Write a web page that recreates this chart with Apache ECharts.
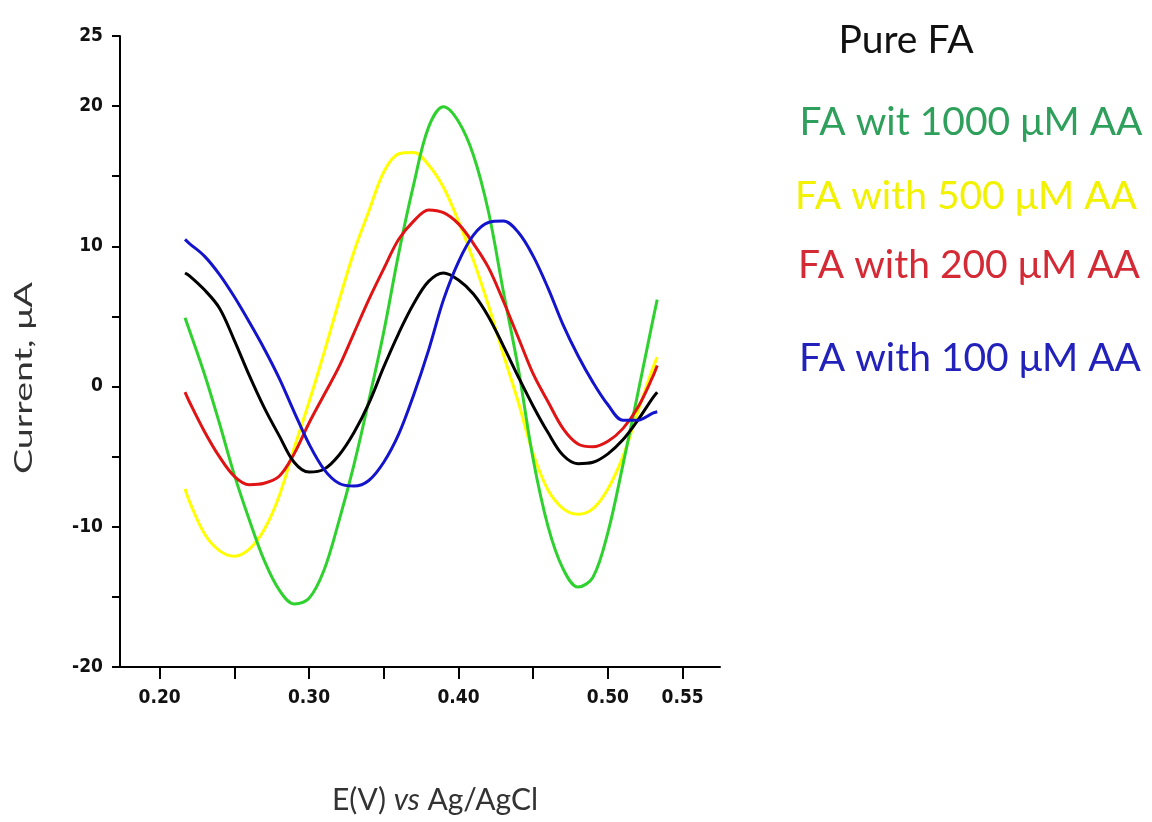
<!DOCTYPE html>
<html>
<head>
<meta charset="utf-8">
<script src="https://cdn.jsdelivr.net/npm/echarts@6/dist/echarts.min.js"></script>
<style>
  html, body { margin: 0; padding: 0; background: #ffffff; }
  #chart { width: 1152px; height: 822px; }
</style>
</head>
<body>
<div id="chart"></div>
<script>
// Potential (V vs Ag/AgCl) at which each current was sampled
const potentials = [0.217, 0.22, 0.23, 0.24, 0.25, 0.26, 0.27, 0.28, 0.29, 0.30, 0.31,
  0.32, 0.33, 0.34, 0.35, 0.36, 0.37, 0.38, 0.39, 0.40, 0.41, 0.42, 0.43, 0.44, 0.45,
  0.46, 0.47, 0.48, 0.49, 0.50, 0.51, 0.52, 0.53, 0.533];

// Current (µA) for each solution
const pureFA = [8.1, 7.9, 6.9, 5.6, 3.3, 0.8, -1.5, -3.5, -5.4, -6.1, -5.9,
  -4.9, -3.3, -1.2, 1.4, 3.8, 5.9, 7.5, 8.1, 7.6, 6.6, 5.0, 2.9, 0.7, -1.4,
  -3.3, -4.9, -5.5, -5.4, -4.8, -3.8, -2.4, -0.8, -0.4];
const fa1000 = [4.9, 4.0, 0.9, -2.6, -6.3, -9.5, -12.4, -14.5, -15.5, -15.1, -13.1,
  -9.6, -5.6, -1.0, 3.9, 9.5, 14.4, 18.5, 19.95, 18.9, 16.5, 12.5, 6.8, 1.3, -5.2,
  -10.0, -13.0, -14.3, -13.6, -10.4, -5.6, -0.5, 4.7, 6.2];
const fa500 = [-7.3, -8.2, -10.5, -11.7, -12.1, -11.6, -10.2, -7.8, -4.4, -1.1, 2.4,
  6.1, 9.6, 12.5, 15.3, 16.6, 16.7, 15.8, 14.2, 11.8, 9.0, 5.8, 2.3, -1.1, -4.8,
  -7.4, -8.7, -9.1, -8.7, -7.3, -5.0, -1.8, 1.3, 2.1];
const fa200 = [-0.4, -1.1, -3.2, -5.0, -6.4, -7.0, -6.9, -6.4, -4.8, -2.6, -0.6,
  1.4, 3.8, 6.2, 8.4, 10.5, 11.8, 12.6, 12.4, 11.6, 10.2, 8.5, 6.1, 3.5, 0.9,
  -1.1, -3.0, -4.1, -4.3, -3.9, -3.0, -1.5, 0.7, 1.5];
const fa100 = [10.5, 10.2, 9.3, 8.0, 6.4, 4.6, 2.7, 0.6, -1.8, -4.1, -5.9,
  -6.9, -7.1, -6.7, -5.4, -3.4, -0.6, 2.6, 6.2, 8.9, 10.8, 11.7, 11.8, 11.0, 9.3,
  7.0, 4.4, 2.2, 0.3, -1.3, -2.4, -2.4, -1.9, -1.8];

// Axis ticks and labels
const xTickValues = [0.20, 0.25, 0.30, 0.35, 0.40, 0.45, 0.50, 0.55];
const xLabelValues = [0.20, 0.30, 0.40, 0.50, 0.55];
const yLabelValues = [-20, -10, 0, 10, 20, 25];

// Axis titles
const xTitle = '{a|E(V) }{b|vs}{a| Ag/AgCl}';
const yTitle = 'Current, \u03bcA';

// Series names as shown in the key, in key order
const seriesNames = ['Pure FA', 'FA wit 1000 \u03bcM AA', 'FA with 500 \u03bcM AA',
  'FA with 200 \u03bcM AA', 'FA with 100 \u03bcM AA'];
const seriesValues = [pureFA, fa1000, fa500, fa200, fa100];
const lineColors = ['#000000', '#2fd12f', '#ffff00', '#e01414', '#1414cc'];
const keyColors = ['#111111', '#2f9f5c', '#f2f200', '#d42a36', '#2222bb'];
const keyPos = [[906, 40], [971, 122], [966, 196], [969, 265], [970, 358]];
const drawOrder = [2, 1, 3, 0, 4];

const chart = echarts.init(document.getElementById('chart'), null, { renderer: 'canvas' });

const tickFont = {
  fontFamily: '"Liberation Sans Narrow", "DejaVu Sans Condensed", sans-serif',
  fontWeight: 'bold',
  fontSize: 19,
  color: '#111111'
};
const titleFont = 'Lato, "Open Sans", sans-serif';

const series = drawOrder.map(i => ({
  name: seriesNames[i],
  type: 'line',
  data: potentials.map((p, k) => [p, seriesValues[i][k]]),
  smooth: 0.35,
  showSymbol: false,
  symbol: 'none',
  lineStyle: { color: lineColors[i], width: 3 },
  itemStyle: { color: lineColors[i] },
  z: 2 + drawOrder.indexOf(i)
}));

const keyTexts = seriesNames.map((name, i) => ({
  type: 'text',
  x: keyPos[i][0],
  y: keyPos[i][1],
  style: {
    text: name,
    fill: keyColors[i],
    font: '39px ' + titleFont,
    textAlign: 'center',
    textVerticalAlign: 'middle'
  }
}));

const titleTexts = [
  {
    type: 'text',
    x: 435,
    y: 800,
    style: {
      text: xTitle,
      textAlign: 'center',
      textVerticalAlign: 'middle',
      rich: {
        a: { fontFamily: titleFont, fontSize: 30, fill: '#333333' },
        b: { fontFamily: titleFont, fontSize: 30, fontStyle: 'italic', fill: '#333333' }
      }
    }
  },
  {
    type: 'text',
    x: 24,
    y: 378,
    rotation: Math.PI / 2,
    scaleX: 1.5,
    style: {
      text: yTitle,
      fill: '#333333',
      font: '25px ' + titleFont,
      textAlign: 'center',
      textVerticalAlign: 'middle'
    }
  }
];

chart.setOption({
  backgroundColor: '#ffffff',
  animation: false,
  grid: { left: 120, top: 36, right: 432, bottom: 155, containLabel: false, outerBoundsMode: 'none' },
  xAxis: {
    type: 'value',
    min: 0.1735,
    max: 0.575,
    axisLine: { show: true, onZero: false, lineStyle: { color: '#000000', width: 2 } },
    axisTick: { show: true, customValues: xTickValues, length: 12, lineStyle: { color: '#000000', width: 2 } },
    axisLabel: Object.assign({
      customValues: xLabelValues,
      margin: 22,
      formatter: v => v.toFixed(2)
    }, tickFont),
    splitLine: { show: false }
  },
  yAxis: {
    type: 'value',
    min: -20,
    max: 25,
    interval: 5,
    axisLine: { show: true, onZero: false, lineStyle: { color: '#000000', width: 2 } },
    axisTick: { show: true, length: 8, lineStyle: { color: '#000000', width: 2 } },
    axisLabel: Object.assign({
      customValues: yLabelValues,
      margin: 17,
      formatter: v => String(v)
    }, tickFont),
    splitLine: { show: false }
  },
  series: series,
  graphic: keyTexts.concat(titleTexts)
});
</script>
</body>
</html>
